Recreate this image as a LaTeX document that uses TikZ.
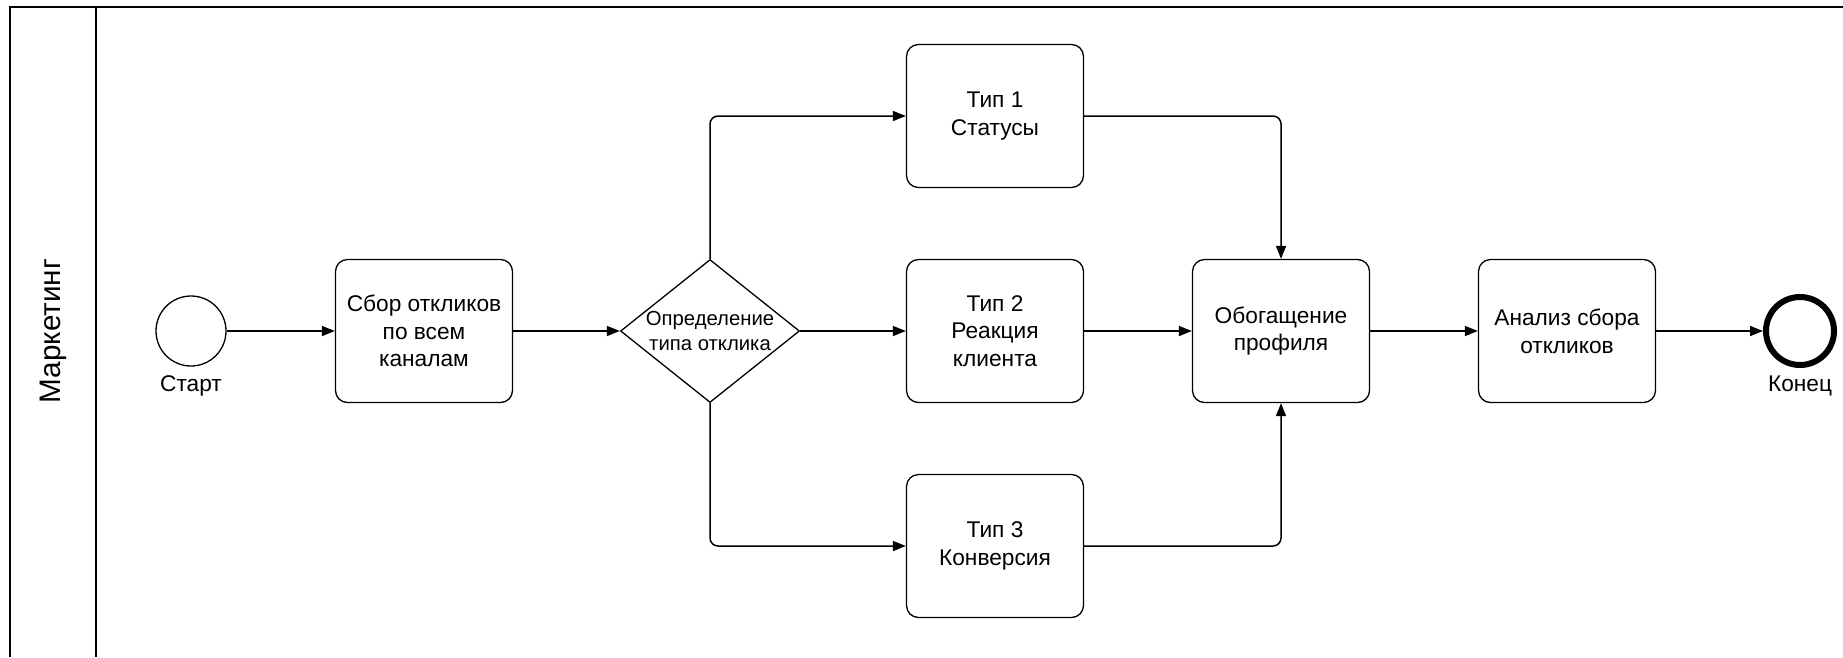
\documentclass[tikz,border=0pt]{standalone}
\usepackage{fontspec}
\setmainfont{Liberation Sans}
\usetikzlibrary{arrows.meta, shapes.geometric}

\begin{document}
\begin{tikzpicture}[x=1pt, y=-1pt, line width=1.3pt, font=\fontsize{22.7}{27.6}\selectfont,
  Task/.style={draw, align=center, rounded corners=12pt, minimum width=177pt, minimum height=143pt, inner sep=0pt},
  Gateway/.style={draw, diamond, aspect=1.25, align=center, minimum width=179pt, minimum height=143pt, inner sep=-4pt, font=\fontsize{20.3}{24.5}\selectfont},
  Event/.style={draw, circle, minimum size=70pt, inner sep=0pt},
  Flow/.style={-{Triangle[length=13pt, width=10pt]}, line width=1.5pt, rounded corners=8pt}]

\useasboundingbox (0,0) rectangle (1843,657);

% pool and lane
\draw [line width=2.2pt] (1843,7) -- (10,7) -- (10,657);
\draw [line width=2.2pt] (96,7) -- (96,657);
\node [rotate=90, font=\fontsize{29.7}{34}\selectfont] (lane) at (53,331) {Маркетинг};

\node [Event] (start) at (191,331) {};
\node (startlabel) at (191,386) {Старт};

\node [Task] (collect) at (424,331) {Сбор откликов\\по всем\\каналам};
\node [Gateway] (gate) at (710,331) {Определение\\типа отклика};

\foreach \y/\name/\txt in {116/type1/{Тип 1\\Статусы}, 331/type2/{Тип 2\\Реакция\\клиента}, 546/type3/{Тип 3\\Конверсия}} {
  \node [Task] (\name) at (995,\y) {\txt};
}

\node [Task] (enrich) at (1281,331) {Обогащение\\профиля};
\node [Task] (analyse) at (1567,331) {Анализ сбора\\откликов};

\node [Event, line width=6pt, minimum size=68pt] (finish) at (1800,331) {};
\node (finishlabel) at (1800,386) {Конец};

\draw [Flow] (start) -- (collect);
\draw [Flow] (collect) -- (gate);
\draw [Flow] (gate.north) |- (type1);
\draw [Flow] (gate) -- (type2);
\draw [Flow] (gate.south) |- (type3);
\draw [Flow] (type1) -| (enrich);
\draw [Flow] (type2) -- (enrich);
\draw [Flow] (type3) -| (enrich);
\draw [Flow] (enrich) -- (analyse);
\draw [Flow] (analyse) -- (finish);
\end{tikzpicture}
\end{document}
